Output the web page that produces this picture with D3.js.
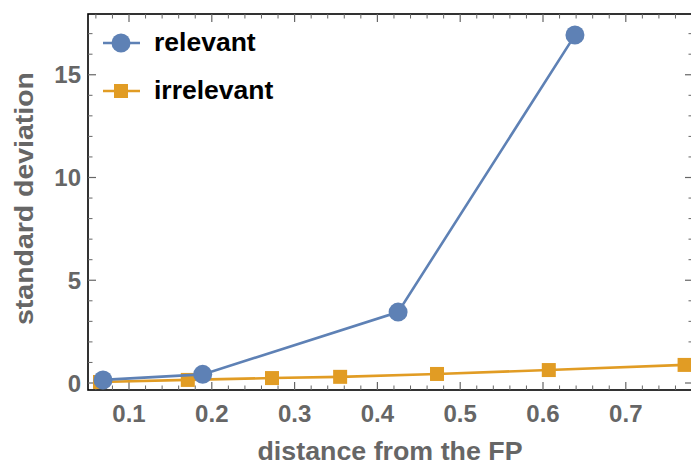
<!DOCTYPE html>
<html><head><meta charset="utf-8">
<script src="https://cdn.jsdelivr.net/npm/d3@7"></script>
<style>body{margin:0;background:#fff;} svg{display:block;}</style>
</head><body>
<svg id="c" width="691" height="466"></svg>
<script>
const relX = [0.0686, 0.189, 0.425, 0.6386];
const relY = [0.15, 0.42, 3.45, 16.93];
const irrX = [0.065, 0.171, 0.2727, 0.355, 0.472, 0.607, 0.771];
const irrY = [0.05, 0.15, 0.24, 0.3, 0.44, 0.63, 0.88];
const xTicks = [0.1, 0.2, 0.3, 0.4, 0.5, 0.6, 0.7];
const yTicks = [0, 5, 10, 15];
const seriesNames = ["relevant", "irrelevant"];

const svg = d3.select("#c");
const L = 88, R = 693, T = 14, B = 390;
const x = d3.scaleLinear().domain([0.1, 0.2]).range([129, 211.8]);
const y = d3.scaleLinear().domain([0, 5]).range([383, 280.25]);
const blue = "#5E81B5", orange = "#E19C24";
const font = "'Liberation Sans', Arial, sans-serif";

svg.append("rect").attr("x", L).attr("y", T).attr("width", R - L).attr("height", B - T)
  .attr("fill", "none").attr("stroke", "#000").attr("stroke-width", 1.6);

const xmin = x.invert(L), xmax = x.invert(R);
const xMinor = d3.range(0.04, 0.8, 0.02).map(v => +v.toFixed(2)).filter(v => v > xmin && v < xmax);
xMinor.forEach(v => {
  const major = Math.abs(v * 10 - Math.round(v * 10)) < 1e-6;
  const len = major ? 8 : 4.5;
  [[B, -1], [T, 1]].forEach(([yy, d]) => {
    svg.append("line").attr("x1", x(v)).attr("x2", x(v)).attr("y1", yy).attr("y2", yy + d * len)
      .attr("stroke", "#666").attr("stroke-width", major ? 1.2 : 1);
  });
});
const yMinor = d3.range(0, 18, 1).filter(v => y(v) < B && y(v) > T);
yMinor.forEach(v => {
  const major = v % 5 === 0;
  const len = major ? 8 : 4.5;
  [[L, 1], [R, -1]].forEach(([xx, d]) => {
    svg.append("line").attr("x1", xx).attr("x2", xx + d * len).attr("y1", y(v)).attr("y2", y(v))
      .attr("stroke", "#666").attr("stroke-width", major ? 1.2 : 1);
  });
});

svg.selectAll(".xt").data(xTicks).enter().append("text")
  .attr("x", d => x(d)).attr("y", 422).attr("text-anchor", "middle")
  .attr("font-family", font).attr("font-weight", "bold").attr("font-size", 24).attr("fill", "#666")
  .text(d => d.toFixed(1));
svg.selectAll(".yt").data(yTicks).enter().append("text")
  .attr("x", 81).attr("y", d => y(d) + 8.5).attr("text-anchor", "end")
  .attr("font-family", font).attr("font-weight", "bold").attr("font-size", 24).attr("fill", "#666")
  .text(d => d);

svg.append("text").attr("x", 390).attr("y", 460).attr("text-anchor", "middle")
  .attr("font-family", font).attr("font-weight", "bold").attr("font-size", 25).attr("fill", "#666")
  .attr("textLength", 265).attr("lengthAdjust", "spacingAndGlyphs")
  .text("distance from the FP");
svg.append("text").attr("transform", "translate(33,198.5) rotate(-90)").attr("text-anchor", "middle")
  .attr("font-family", font).attr("font-weight", "bold").attr("font-size", 26).attr("fill", "#666")
  .attr("textLength", 253).attr("lengthAdjust", "spacingAndGlyphs")
  .text("standard deviation");

const g = svg.append("g");
const line = d3.line().x(d => x(d[0])).y(d => y(d[1]));
const irr = irrX.map((v, i) => [v, irrY[i]]);
const rel = relX.map((v, i) => [v, relY[i]]);
g.append("path").datum(irr).attr("d", line).attr("fill", "none").attr("stroke", orange).attr("stroke-width", 2.6);
g.selectAll(".sq").data(irr).enter().append("rect")
  .attr("x", d => x(d[0]) - 7).attr("y", d => y(d[1]) - 7).attr("width", 14).attr("height", 14).attr("fill", orange);
g.append("path").datum(rel).attr("d", line).attr("fill", "none").attr("stroke", blue).attr("stroke-width", 2.6);
g.selectAll(".ci").data(rel).enter().append("circle")
  .attr("cx", d => x(d[0])).attr("cy", d => y(d[1])).attr("r", 9.5).attr("fill", blue);

const leg = [{c: blue, s: "circle"}, {c: orange, s: "square"}];
leg.forEach((d, i) => {
  const yy = 43 + i * 48;
  svg.append("line").attr("x1", 103).attr("x2", 140).attr("y1", yy).attr("y2", yy).attr("stroke", d.c).attr("stroke-width", 2.6);
  if (d.s === "circle") svg.append("circle").attr("cx", 121).attr("cy", yy).attr("r", 9.5).attr("fill", d.c);
  else svg.append("rect").attr("x", 114).attr("y", yy - 7).attr("width", 14).attr("height", 14).attr("fill", d.c);
  svg.append("text").attr("x", 154).attr("y", yy + 8).attr("font-family", font).attr("font-weight", "bold")
    .attr("font-size", 26.5).attr("fill", "#000").text(seriesNames[i]);
});
</script>
</body></html>
